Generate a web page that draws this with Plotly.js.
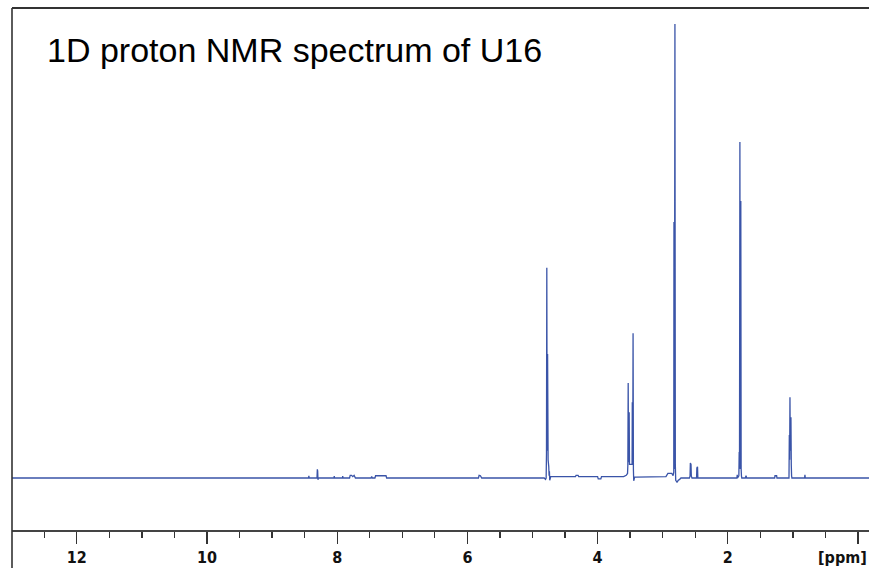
<!DOCTYPE html>
<html>
<head>
<meta charset="utf-8">
<script src="https://cdn.plot.ly/plotly-3.0.1.min.js"></script>
<style>html,body{margin:0;padding:0;background:#fff;}#chart{width:869px;height:568px;}</style>
</head>
<body>
<div id="chart"></div>
<script>
// Chemical shift (ppm) and intensity (relative, tallest peak = 100)
const ppm = [
  12.995,
  8.44, 8.435, 8.43,
  8.31, 8.305, 8.30, 8.295, 8.29,
  8.05, 8.045, 8.04,
  7.92, 7.915, 7.91,
  7.81, 7.80, 7.78, 7.76, 7.74, 7.72,
  7.48, 7.47, 7.46,
  7.42, 7.41, 7.25, 7.24,
  5.83, 5.82, 5.80, 5.78,
  4.82, 4.80, 4.79, 4.785, 4.78, 4.775, 4.768, 4.76, 4.75, 4.745, 4.74, 4.735, 4.72,
  4.34, 4.33, 4.30, 4.29,
  4.00, 3.99, 3.95, 3.94,
  3.60, 3.56, 3.54, 3.535, 3.53, 3.525, 3.515, 3.51, 3.47, 3.467, 3.46, 3.455, 3.45, 3.445, 3.43, 3.41,
  2.95, 2.92, 2.86, 2.84, 2.83, 2.827, 2.82, 2.812, 2.806, 2.80, 2.78, 2.76, 2.74, 2.72,
  2.59, 2.58, 2.575, 2.565, 2.56, 2.55,
  2.48, 2.475, 2.465, 2.46,
  1.87, 1.86, 1.855, 1.85, 1.83, 1.825, 1.82, 1.814, 1.808, 1.80, 1.795, 1.79, 1.785,
  1.73, 1.72, 1.71,
  1.28, 1.275, 1.25, 1.245,
  1.06, 1.055, 1.05, 1.045, 1.04, 1.03, 1.025, 1.02, 1.015,
  0.82, 0.815, 0.81,
  -0.169
];
const intensity = [
  0,
  0, 0.5, 0,
  0, 1.9, 1.6, -0.4, 0,
  0, 0.4, 0,
  0, 0.4, 0,
  0, 0.6, 0.6, 0.3, 0.6, 0,
  0, 0.3, 0,
  0, 0.5, 0.5, 0,
  0, 0.6, 0.5, 0,
  0, -0.3, 0, 5.5, 46.3, 6, 27.3, 4, 2.5, 0.5, 1.5, -0.5, 0.3,
  0.3, 0.6, 0.6, 0.3,
  0.3, -0.2, -0.2, 0.3,
  0.3, 0.6, 1.0, 2.9, 20.9, 3.5, 14.5, 3, 3, 16.7, 4, 31.9, 2, -0.6, 0.2, 0.2,
  0.3, 1.0, 1.0, 0.5, 1.3, 56.4, 2, 100, 3, -0.5, -0.9, -0.5, -0.3, 0,
  0, 0.4, 3.3, 3.0, 0.4, 0,
  0, 2.2, 2.5, 0,
  0, 0, 0.7, 0, 0.5, 5.7, 3, 74, 2, 61, 2, 0.4, 0,
  0, 0.5, 0,
  0, 0.5, 0.5, 0,
  0, 9.5, 4, 17.8, 6, 13.4, 3, 0.5, 0,
  0, 0.7, 0,
  0
];
const tickVals = [0, 2, 4, 6, 8, 10, 12];
const tickText = ['', '2', '4', '6', '8', '10', '12'];

const trace = {
  x: ppm, y: intensity, type: 'scatter', mode: 'lines',
  line: {color: 'rgb(58,84,168)', width: 1.3, simplify: false},
  hoverinfo: 'skip'
};

const layout = {
  width: 869, height: 568,
  margin: {l: 12, r: 0, t: 8, b: 38, pad: 0},
  paper_bgcolor: '#fff', plot_bgcolor: '#fff',
  showlegend: false,
  title: {
    text: '1D proton NMR spectrum of U16',
    font: {family: 'Liberation Sans, Arial, sans-serif', size: 34, color: '#000'},
    xref: 'container', yref: 'container',
    x: 47/869, xanchor: 'left',
    y: 1 - 50/568, yanchor: 'middle'
  },
  xaxis: {
    range: [12.995, -0.169],
    tickmode: 'array', tickvals: tickVals, ticktext: tickText,
    ticks: 'outside', ticklen: 12, tickwidth: 1.3, tickcolor: '#333',
    minor: {dtick: 0.5, tick0: 0, ticks: 'outside', ticklen: 6, tickwidth: 1.3, tickcolor: '#333', showgrid: false},
    showline: true, linecolor: '#444', linewidth: 1.5,
    showgrid: false, zeroline: false,
    tickfont: {family: 'DejaVu Sans Condensed, DejaVu Sans, sans-serif', size: 16, color: '#111', weight: 'bold'},
    fixedrange: true
  },
  yaxis: {
    range: [-11.45, 103.52], visible: false, showgrid: false, zeroline: false, fixedrange: true
  },
  shapes: [
    {type: 'line', xref: 'paper', yref: 'paper', x0: 0, x1: 0, y0: -38/522, y1: 1, line: {color: '#333', width: 1.6}},
    {type: 'line', xref: 'paper', yref: 'paper', x0: 0, x1: 1, y0: 1, y1: 1, line: {color: '#333', width: 2}}
  ],
  annotations: [
    {text: '[ppm]', xref: 'paper', yref: 'paper', x: 1, y: -0.052, xanchor: 'right', yanchor: 'middle', showarrow: false,
     font: {family: 'DejaVu Sans Condensed, DejaVu Sans, sans-serif', size: 16, color: '#111', weight: 'bold'}}
  ]
};

Plotly.newPlot('chart', [trace], layout, {staticPlot: true, displayModeBar: false});
</script>
</body>
</html>
